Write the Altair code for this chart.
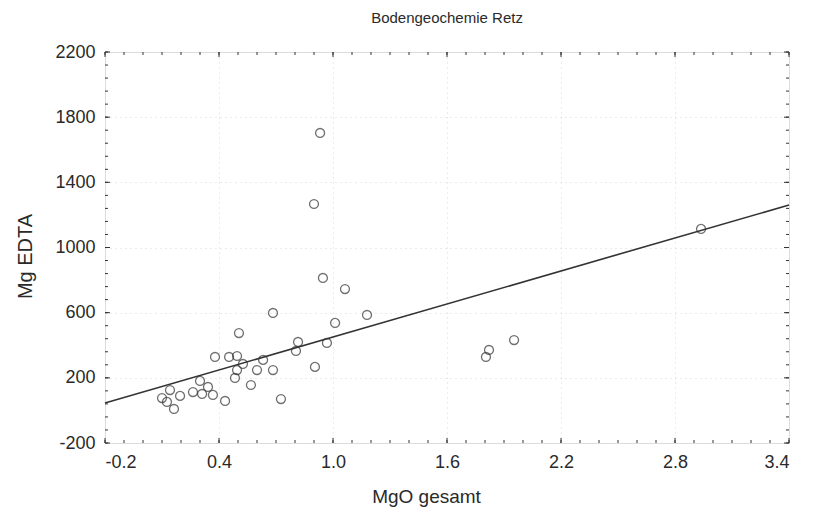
import altair as alt
import pandas as pd

# --- data ---
mgo = [0.932, 0.900, 0.947, 1.063, 0.684, 1.179, 1.011, 0.968, 0.905, 0.505,
       2.937, 1.953, 1.821, 1.805, 0.816, 0.805, 0.379, 0.453, 0.495, 0.526,
       0.632, 0.495, 0.600, 0.684, 0.484, 0.568, 0.726, 0.432, 0.300, 0.342,
       0.263, 0.311, 0.368, 0.142, 0.100, 0.126, 0.195, 0.163]
mg_edta = [1703, 1267, 813, 745, 598, 586, 537, 414, 267, 475,
           1114, 432, 371, 328, 420, 365, 328, 328, 334, 285,
           310, 248, 248, 248, 199, 156, 70, 58, 181, 144,
           113, 101, 95, 125, 76, 52, 89, 9]

fit_x = [-0.2, 3.4]
fit_y = [46, 1261]

x_major = [-0.2, 0.4, 1.0, 1.6, 2.2, 2.8, 3.4]
y_major = [-200, 200, 600, 1000, 1400, 1800, 2200]
x_minor = [round(-0.2 + 0.1 * i, 2) for i in range(37)]
y_minor = [-200 + 80 * i for i in range(31)]

chart_title = "Bodengeochemie Retz"

W, H = 684, 391
FONT = "Liberation Sans"
INK = "#2a2a2a"
MINUS_FIX = "replace(datum.label, '\u2212', '-')"

pts = pd.DataFrame({"MgO gesamt": mgo, "Mg EDTA": mg_edta})
fit = pd.DataFrame({"MgO gesamt": fit_x, "Mg EDTA": fit_y})
xmaj = pd.DataFrame({"v": x_major})
ymaj = pd.DataFrame({"v": y_major})
xmin = pd.DataFrame({"v": x_minor})
ymin = pd.DataFrame({"v": y_minor})
ttl = pd.DataFrame({"t": [chart_title]})

xscale = alt.Scale(domain=[-0.2, 3.4], nice=False, zero=False)
yscale = alt.Scale(domain=[-200, 2200], nice=False, zero=False)

xaxis = alt.Axis(values=x_major, format=".1f", labelExpr=MINUS_FIX, ticks=False,
                 grid=True, gridColor="#d6d6d6", gridDash=[1, 4], gridWidth=1,
                 domain=False, labelFont=FONT, labelFontSize=18, labelColor=INK,
                 labelPadding=10, title="MgO gesamt", titleFont=FONT,
                 titleFontSize=19, titleFontWeight="normal", titleColor=INK,
                 titlePadding=16, titleX=321, titleAlign="center")
yaxis = alt.Axis(values=y_major, format="d", labelExpr=MINUS_FIX, ticks=False,
                 grid=True, gridColor="#d6d6d6", gridDash=[1, 4], gridWidth=1,
                 domain=False, labelFont=FONT, labelFontSize=18, labelColor=INK,
                 labelPadding=10, title="Mg EDTA", titleFont=FONT,
                 titleFontSize=20, titleFontWeight="normal", titleColor=INK,
                 titlePadding=19, titleY=204, titleAlign="center")

points = alt.Chart(pts).mark_point(
    shape="circle", filled=False, size=80, stroke="#333333", strokeWidth=1.3
).encode(
    x=alt.X("MgO gesamt:Q", scale=xscale, axis=xaxis),
    y=alt.Y("Mg EDTA:Q", scale=yscale, axis=yaxis),
)

line = alt.Chart(fit).mark_line(color="#333333", strokeWidth=1.6).encode(
    x=alt.X("MgO gesamt:Q", scale=xscale),
    y=alt.Y("Mg EDTA:Q", scale=yscale),
)

title_mark = alt.Chart(ttl).mark_text(
    font=FONT, fontSize=15, color=INK, align="center", baseline="alphabetic"
).encode(text="t:N", x=alt.value(W / 2), y=alt.value(-29))

tick_color = "#333333"

def xticks(df, length):
    bottom = alt.Chart(df).mark_rule(color=tick_color, strokeWidth=1).encode(
        x=alt.X("v:Q", scale=xscale), y=alt.value(H), y2=alt.value(H - length))
    top = alt.Chart(df).mark_rule(color=tick_color, strokeWidth=1).encode(
        x=alt.X("v:Q", scale=xscale), y=alt.value(0), y2=alt.value(length))
    return [bottom, top]

def yticks(df, length):
    left = alt.Chart(df).mark_rule(color=tick_color, strokeWidth=1).encode(
        y=alt.Y("v:Q", scale=yscale), x=alt.value(0), x2=alt.value(length))
    right = alt.Chart(df).mark_rule(color=tick_color, strokeWidth=1).encode(
        y=alt.Y("v:Q", scale=yscale), x=alt.value(W), x2=alt.value(W - length))
    return [left, right]

layers = ([points, line, title_mark] + xticks(xmin, 3) + xticks(xmaj, 5)
          + yticks(ymin, 3) + yticks(ymaj, 5))

chart = alt.layer(*layers).properties(
    width=W, height=H,
    autosize=alt.AutoSizeParams(type="none"),
    padding={"left": 105, "top": 52, "right": 30, "bottom": 74},
).configure_view(
    stroke="#222222", strokeWidth=1.2
).configure(background="white")

chart.save("out.html", embed_options={"renderer": "svg", "actions": False})
